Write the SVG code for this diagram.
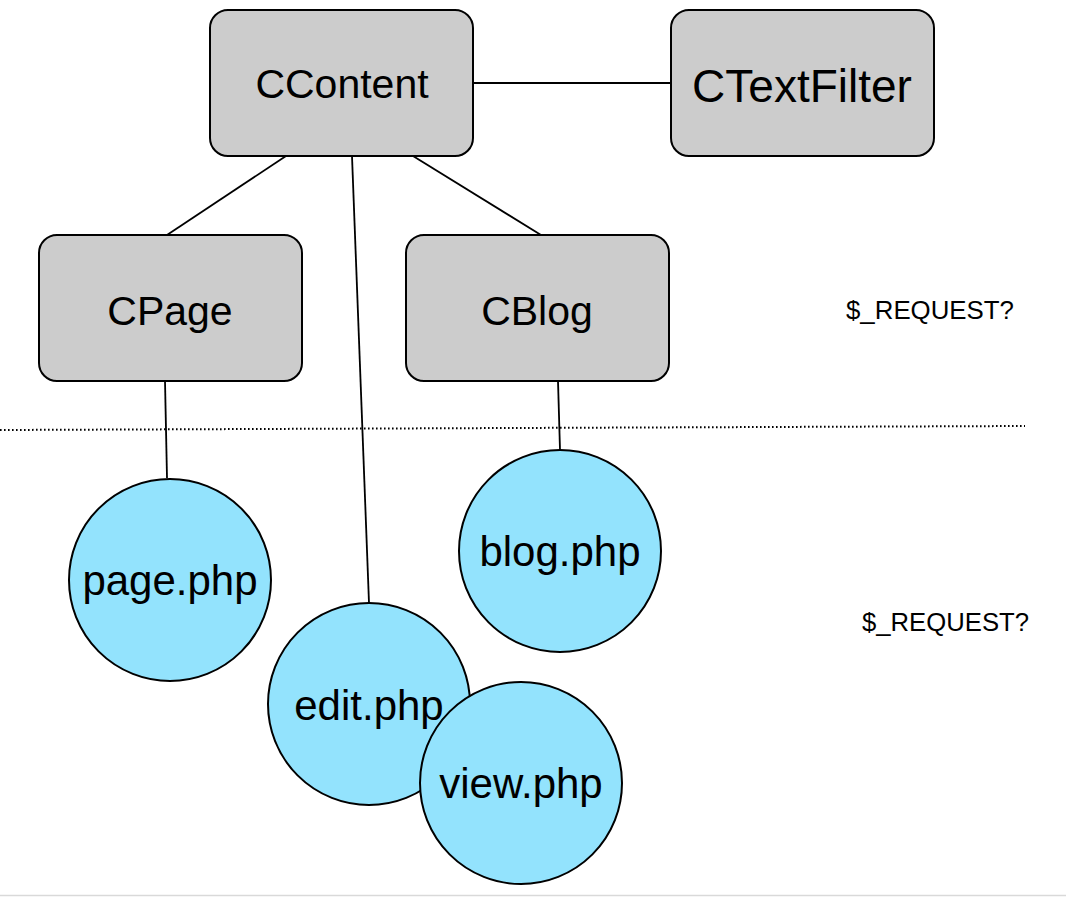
<svg xmlns="http://www.w3.org/2000/svg" width="1066" height="897" viewBox="0 0 1066 897">
<style>
.box{fill:#cccccc;stroke:#000;stroke-width:2}
.php{fill:#93e3fd;stroke:#000;stroke-width:2}
.lbl{font-family:"Liberation Sans",Arial,Helvetica,sans-serif;fill:#000;text-anchor:middle}
.conn line{stroke:#000;stroke-width:1.8}
.note{font-family:"Liberation Sans",Arial,Helvetica,sans-serif;font-size:26px;fill:#000}
</style>
<rect width="1066" height="897" fill="#fff"/>
<g id="connectors" class="conn">
<line x1="473" y1="83" x2="671" y2="83"/>
<line x1="286" y1="156" x2="167" y2="235"/>
<line x1="413" y1="156" x2="541" y2="235"/>
<line x1="352" y1="156" x2="369" y2="603"/>
<line x1="165" y1="381" x2="167" y2="478"/>
<line x1="558" y1="381" x2="560" y2="450"/>
</g>
<line id="divider" x1="0" y1="430" x2="1025" y2="426" stroke="#000" stroke-width="2" stroke-dasharray="1.6,2.4"/>
<g id="CContent"><rect class="box" x="210" y="10" width="263" height="146" rx="18"/><text class="lbl" x="342" y="98" font-size="41">CContent</text></g>
<g id="CTextFilter"><rect class="box" x="671" y="10" width="263" height="146" rx="18"/><text class="lbl" x="802" y="102" font-size="46">CTextFilter</text></g>
<g id="CPage"><rect class="box" x="39" y="235" width="263" height="146" rx="18"/><text class="lbl" x="170" y="325" font-size="41">CPage</text></g>
<g id="CBlog"><rect class="box" x="406" y="235" width="263" height="146" rx="18"/><text class="lbl" x="537" y="325" font-size="41">CBlog</text></g>
<g id="page"><circle class="php" cx="170" cy="580" r="101"/><text class="lbl" x="170" y="595" font-size="42">page.php</text></g>
<g id="blog"><circle class="php" cx="560" cy="551" r="101"/><text class="lbl" x="560" y="566" font-size="42">blog.php</text></g>
<g id="edit"><circle class="php" cx="369" cy="704" r="101"/><text class="lbl" x="369" y="720" font-size="42">edit.php</text></g>
<g id="view"><circle class="php" cx="521" cy="783" r="101"/><text class="lbl" x="521" y="798" font-size="42">view.php</text></g>
<text class="note" x="846" y="319" textLength="168" lengthAdjust="spacingAndGlyphs">$_REQUEST?</text>
<text class="note" x="862" y="631" textLength="167" lengthAdjust="spacingAndGlyphs">$_REQUEST?</text>
<line x1="0" y1="895.5" x2="1066" y2="895.5" stroke="#d9d9d9" stroke-width="1.5"/>
</svg>
